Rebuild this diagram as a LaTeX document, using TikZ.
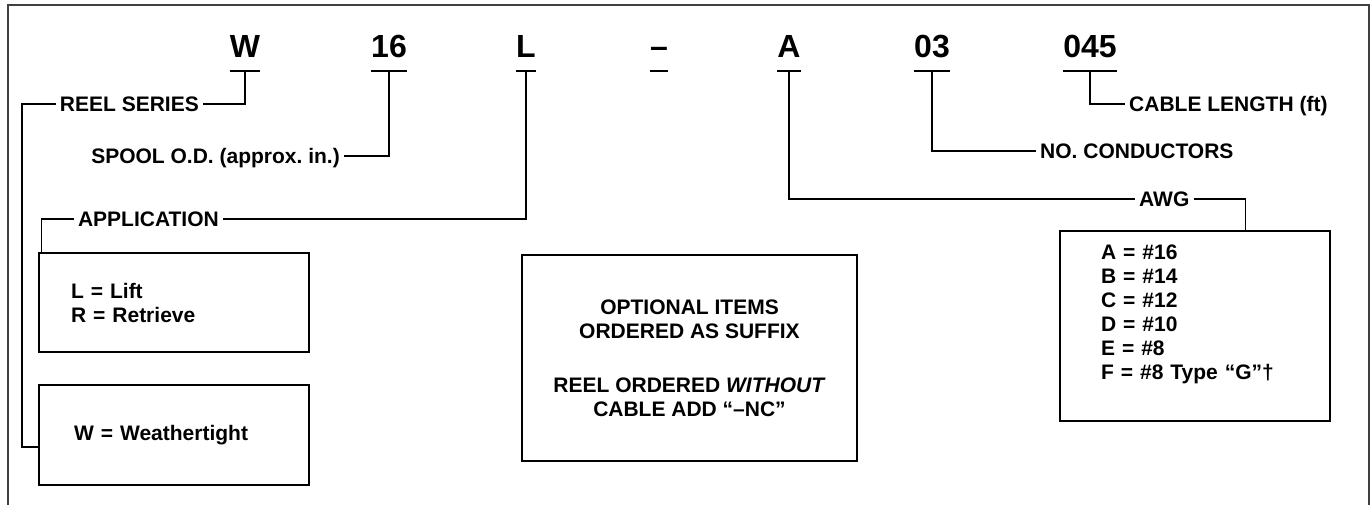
\documentclass[tikz,border=0pt]{standalone}
\usepackage{fontspec}
\setmainfont{Liberation Sans}
\usetikzlibrary{calc,positioning}
\frenchspacing

\begin{document}
\begin{tikzpicture}[x=1pt,y=-1pt,
  code/.style={font=\fontsize{32}{32}\selectfont\bfseries,inner sep=0pt,anchor=base},
  lbl/.style={font=\fontsize{21}{24}\selectfont\bfseries,inner sep=4pt,text height=15pt,text depth=0pt},
  box/.style={draw,line width=1.2pt,font=\fontsize{21}{24}\selectfont\bfseries},
  conn/.style={line width=1.6pt},
  uline/.style={line width=1.6pt}]
\useasboundingbox (0,0) rectangle (1372,505);

% Frame
\draw[line width=1.3pt,black!75] (8,505) -- (8,5) -- (1369,5) -- (1369,505);

% Model code
\node[code] (cW) at (245,58) {W};
\node[code] (c16) at (389,58) {16};
\node[code] (cL) at (526,58) {L};
\node[code] (cD) at (659,58) {–};
\node[code] (cA) at (789,58) {A};
\node[code] (c03) at (932,58) {03};
\node[code] (c045) at (1090,58) {045};
\foreach \c in {cW,c16,cL,cD,cA,c03,c045}
  \draw[uline] ([yshift=-13pt]\c.base west) -- ([yshift=-13pt]\c.base east);

% Labels
\node[lbl,anchor=east] (rs) at (203,104) {REEL SERIES};
\node[lbl,anchor=east] (sp) at (344,156) {SPOOL O.D. (approx. in.)};
\node[lbl,anchor=east] (app) at (223,219) {APPLICATION};
\node[lbl,anchor=west] (awg) at (1135,199) {AWG};
\node[lbl,anchor=west] (nc) at (1036,151) {NO. CONDUCTORS};
\node[lbl,anchor=west] (cl) at (1125,104) {CABLE LENGTH (ft)};

% Boxes
\node[box,minimum height=99pt,text width=206pt,inner xsep=32pt,align=left] (appbox) at (174,302.5)
  {L = Lift\\R = Retrieve};
\node[box,minimum height=100pt,text width=200pt,inner xsep=35pt,align=left] (wbox) at (174,435)
  {W = Weathertight};
\node[box,minimum width=335pt,minimum height=206pt,align=center] (optbox) at (689.5,358)
  {OPTIONAL ITEMS\\ORDERED AS SUFFIX\\[30pt]REEL ORDERED \textit{WITHOUT}\\CABLE ADD “–NC”};
\node[box,minimum height=190pt,text width=188pt,inner xsep=41pt,align=left] (awgbox) at (1195,326)
  {A = \#16\\B = \#14\\C = \#12\\D = \#10\\E = \#8\\F = \#8 Type “G”†\\[3pt]~};

% Connectors
\draw[conn] ([yshift=-13pt]cW.base) |- (rs.east);
\draw[conn] (rs.west) -- ++(-34,0) |- ([yshift=-12pt]wbox.west);
\draw[conn] ([yshift=-13pt]c16.base) |- (sp.east);
\draw[conn] ([yshift=-13pt]cL.base) |- (app.east);
\draw[conn] (app.west) -| ([xshift=3pt]appbox.north west);
\draw[conn] ([yshift=-13pt]cA.base) |- (awg.west);
\draw[conn] (awg.east) -| ([xshift=-85pt]awgbox.north east);
\draw[conn] ([yshift=-13pt]c03.base) |- (nc.west);
\draw[conn] ([yshift=-13pt]c045.base) |- (cl.west);
\end{tikzpicture}
\end{document}
